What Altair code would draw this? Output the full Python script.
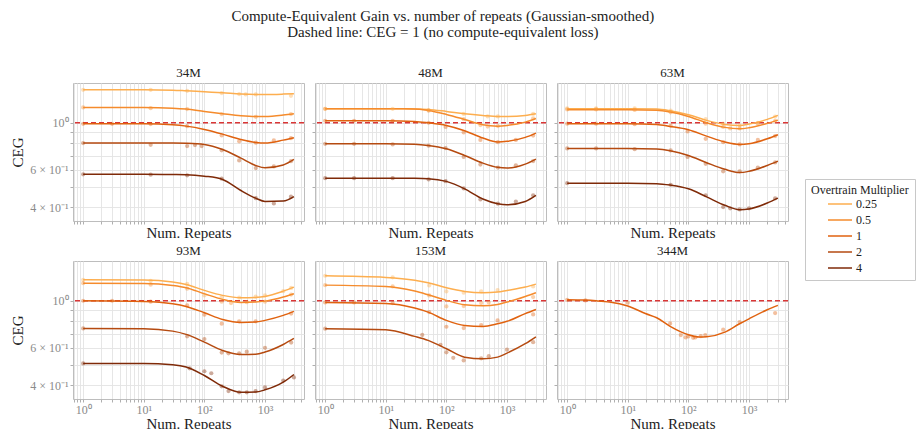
import altair as alt
import pandas as pd

FONT = "Liberation Serif"

panels = ["34M", "48M", "63M", "93M", "153M", "344M"]
mults = ["0.25", "0.5", "1", "2", "4"]
colors = ["#fdae4f", "#f58b2c", "#e0620f", "#b54a10", "#7f2a08"]

# ---- Gaussian-smoothed curves ----
knot_x = [1, 10, 30, 50, 100, 200, 400, 700, 1000, 2000, 3000]
curves = {
    "34M": {
        "0.25": [1.431, 1.431, 1.425, 1.415, 1.400, 1.385, 1.366, 1.360, 1.360, 1.365, 1.370],
        "0.5":  [1.181, 1.181, 1.172, 1.160, 1.130, 1.103, 1.079, 1.071, 1.071, 1.087, 1.103],
        "1":    [0.989, 0.989, 0.978, 0.964, 0.930, 0.884, 0.834, 0.808, 0.802, 0.828, 0.850],
        "2":    [0.802, 0.802, 0.802, 0.800, 0.790, 0.748, 0.681, 0.629, 0.613, 0.632, 0.671],
        "4":    [0.571, 0.571, 0.570, 0.569, 0.560, 0.540, 0.479, 0.441, 0.425, 0.427, 0.448],
    },
    "48M": {
        "0.25": [1.164, 1.164, 1.162, 1.156, 1.131, 1.103, 1.083, 1.071, 1.071, 1.083, 1.103],
        "0.5":  [1.164, 1.164, 1.162, 1.143, 1.095, 1.037, 0.979, 0.964, 0.971, 1.007, 1.048],
        "1":    [1.022, 1.022, 1.015, 1.000, 0.971, 0.917, 0.847, 0.811, 0.817, 0.853, 0.894],
        "2":    [0.796, 0.796, 0.792, 0.782, 0.754, 0.701, 0.645, 0.616, 0.611, 0.638, 0.674],
        "4":    [0.548, 0.548, 0.547, 0.545, 0.529, 0.488, 0.437, 0.415, 0.410, 0.425, 0.454],
    },
    "63M": {
        "0.25": [1.164, 1.164, 1.160, 1.139, 1.091, 1.026, 0.982, 0.971, 0.986, 1.037, 1.083],
        "0.5":  [1.152, 1.152, 1.145, 1.123, 1.071, 1.000, 0.951, 0.937, 0.947, 0.993, 1.029],
        "1":    [0.989, 0.989, 0.982, 0.961, 0.927, 0.865, 0.811, 0.790, 0.796, 0.840, 0.878],
        "2":    [0.757, 0.757, 0.752, 0.738, 0.701, 0.648, 0.603, 0.582, 0.590, 0.629, 0.659],
        "4":    [0.519, 0.519, 0.516, 0.508, 0.488, 0.447, 0.408, 0.389, 0.392, 0.418, 0.441],
    },
    "93M": {
        "0.25": [1.256, 1.252, 1.225, 1.194, 1.119, 1.060, 1.033, 1.037, 1.048, 1.110, 1.160],
        "0.5":  [1.211, 1.207, 1.181, 1.152, 1.079, 1.015, 0.982, 0.986, 0.996, 1.041, 1.079],
        "1":    [1.000, 0.993, 0.968, 0.940, 0.878, 0.816, 0.790, 0.793, 0.808, 0.853, 0.891],
        "2":    [0.740, 0.738, 0.719, 0.694, 0.638, 0.583, 0.558, 0.560, 0.573, 0.622, 0.664],
        "4":    [0.506, 0.506, 0.499, 0.487, 0.444, 0.395, 0.370, 0.371, 0.380, 0.413, 0.449],
    },
    "153M": {
        "0.25": [1.312, 1.289, 1.251, 1.216, 1.152, 1.107, 1.091, 1.099, 1.119, 1.160, 1.198],
        "0.5":  [1.185, 1.168, 1.111, 1.067, 1.004, 0.958, 0.947, 0.961, 0.986, 1.048, 1.091],
        "1":    [0.982, 0.971, 0.924, 0.884, 0.808, 0.765, 0.757, 0.779, 0.800, 0.870, 0.910],
        "2":    [0.738, 0.730, 0.679, 0.650, 0.594, 0.542, 0.532, 0.542, 0.566, 0.627, 0.676],
    },
}
knot_x_344 = [1, 2, 3, 5, 10, 20, 30, 50, 100, 150, 200, 400, 700, 1000, 2000, 3000]
curve_344_1 = [1.011, 1.007, 1.000, 0.986, 0.944, 0.868, 0.831, 0.757, 0.691, 0.674,
               0.676, 0.711, 0.779, 0.822, 0.907, 0.951]

# ---- raw (unsmoothed) points ----
points = {
    "34M": {
        "0.25": ([1, 13, 52, 193, 375, 480, 705, 2680], [1.431, 1.431, 1.415, 1.38, 1.365, 1.36, 1.36, 1.34]),
        "0.5":  ([1, 13, 52, 193, 705, 2680], [1.181, 1.172, 1.16, 1.099, 1.067, 1.099]),
        "1":    ([1, 3, 13, 52, 193, 375, 705, 1400, 2680], [0.989, 0.989, 0.986, 0.964, 0.871, 0.817, 0.805, 0.825, 0.846]),
        "2":    ([1, 13, 52, 70, 90, 193, 375, 705, 1400, 2680], [0.802, 0.787, 0.776, 0.785, 0.776, 0.741, 0.664, 0.611, 0.622, 0.659]),
        "4":    ([1, 13, 52, 193, 705, 1400, 2680], [0.571, 0.569, 0.565, 0.545, 0.441, 0.416, 0.448]),
    },
    "48M": {
        "0.25": ([1, 13, 51, 193, 480, 708, 2700], [1.164, 1.164, 1.147, 1.10, 1.071, 1.071, 1.10]),
        "0.5":  ([1, 51, 193, 364, 480, 708, 2700], [1.164, 1.14, 1.04, 0.975, 0.96, 0.965, 1.05]),
        "1":    ([1, 3, 13, 51, 97, 193, 364, 708, 1400, 2700], [1.022, 1.022, 1.022, 1.0, 0.955, 0.90, 0.83, 0.81, 0.83, 0.87]),
        "2":    ([1, 3, 13, 51, 97, 193, 364, 708, 1400, 2700], [0.796, 0.796, 0.79, 0.78, 0.76, 0.69, 0.635, 0.615, 0.63, 0.66]),
        "4":    ([1, 3, 13, 51, 97, 193, 364, 708, 1400, 2700], [0.548, 0.548, 0.548, 0.54, 0.53, 0.49, 0.435, 0.415, 0.425, 0.455]),
    },
    "63M": {
        "0.25": ([1, 3, 13, 51, 193, 375, 700, 1400, 2700], [1.17, 1.17, 1.17, 1.14, 1.04, 0.99, 0.97, 1.0, 1.07]),
        "0.5":  ([1, 3, 13, 51, 193, 375, 490, 700, 1400, 2700], [1.155, 1.155, 1.15, 1.12, 0.99, 0.955, 0.94, 0.94, 0.99, 1.02]),
        "1":    ([1, 3, 13, 51, 97, 193, 375, 700, 1400, 2700], [0.99, 0.99, 0.985, 0.97, 0.91, 0.84, 0.81, 0.79, 0.83, 0.865]),
        "2":    ([1, 3, 13, 51, 97, 193, 375, 700, 1400, 2700], [0.757, 0.757, 0.75, 0.74, 0.69, 0.64, 0.59, 0.59, 0.615, 0.65]),
        "4":    ([1, 51, 193, 375, 490, 700, 1000, 2700], [0.519, 0.51, 0.455, 0.40, 0.395, 0.39, 0.395, 0.44]),
    },
    "93M": {
        "0.25": ([1, 13, 52, 100, 193, 375, 700, 1000, 2000, 2700], [1.256, 1.24, 1.20, 1.06, 1.04, 1.035, 1.045, 1.06, 1.11, 1.15]),
        "0.5":  ([1, 13, 52, 193, 275, 500, 1000, 2700], [1.211, 1.19, 1.14, 0.99, 0.975, 0.985, 0.99, 1.07]),
        "1":    ([1, 3, 13, 52, 100, 193, 375, 700, 2700], [1.0, 1.0, 0.99, 0.95, 0.86, 0.78, 0.80, 0.80, 0.87]),
        "2":    ([1, 52, 100, 193, 250, 375, 500, 1000, 2700], [0.74, 0.68, 0.66, 0.57, 0.565, 0.565, 0.575, 0.60, 0.635]),
        "4":    ([1, 57, 100, 130, 193, 250, 375, 500, 700, 1000, 2000, 3000],
                 [0.506, 0.48, 0.465, 0.455, 0.395, 0.375, 0.37, 0.37, 0.375, 0.39, 0.42, 0.435]),
    },
    "153M": {
        "0.25": ([1, 13, 52, 100, 193, 375, 700, 2700], [1.312, 1.29, 1.181, 1.107, 1.091, 1.107, 1.123, 1.168]),
        "0.5":  ([1, 13, 52, 100, 193, 375, 500, 2700], [1.185, 1.168, 1.06, 0.94, 0.944, 0.975, 0.982, 1.041]),
        "1":    ([1, 3, 13, 52, 100, 193, 375, 700, 2700], [0.982, 0.982, 0.975, 0.884, 0.754, 0.743, 0.768, 0.808, 0.862]),
        "2":    ([1, 40, 80, 100, 130, 193, 375, 500, 1000, 2700], [0.738, 0.69, 0.62, 0.571, 0.538, 0.523, 0.535, 0.548, 0.588, 0.638]),
    },
    "344M": {
        "1": ([1, 2, 10, 50, 75, 90, 100, 120, 130, 160, 190, 375, 700, 2700],
              [1.011, 1.003, 0.979, 0.782, 0.689, 0.671, 0.679, 0.669, 0.671, 0.681, 0.689, 0.73, 0.793, 0.875]),
    },
}

# ---- build tables ----
line_rows = []
for p, series in curves.items():
    for m, ys in series.items():
        for xv, yv in zip(knot_x, ys):
            line_rows.append({"panel": p, "mult": m, "x": xv, "y": yv})
for xv, yv in zip(knot_x_344, curve_344_1):
    line_rows.append({"panel": "344M", "mult": "1", "x": xv, "y": yv})
lines_df = pd.DataFrame(line_rows)

pt_rows = []
for p, series in points.items():
    for m, (xs, ys) in series.items():
        for xv, yv in zip(xs, ys):
            pt_rows.append({"panel": p, "mult": m, "x": xv, "y": yv})
pts_df = pd.DataFrame(pt_rows)

x_ticks = [0.7, 0.8, 0.9] + [k * 10 ** e for e in range(0, 3) for k in range(1, 10)] + [1000, 2000, 3000, 4000]
y_ticks = [0.4, 0.5, 0.6, 0.7, 0.8, 0.9, 1.0]
x_label_expr = ("datum.value == 1 ? '10\u2070' : datum.value == 10 ? '10\u00b9' : "
                "datum.value == 100 ? '10\u00b2' : datum.value == 1000 ? '10\u00b3' : ''")
y_label_expr = ("abs(datum.value - 1) < 1e-9 ? '10\u2070' : abs(datum.value - 0.6) < 1e-9 ? "
                "'6 \u00d7 10\u207b\u00b9' : abs(datum.value - 0.4) < 1e-9 ? '4 \u00d7 10\u207b\u00b9' : ''")

x_scale = alt.Scale(type="log", domain=[0.68, 4400], nice=False)
y_scale = alt.Scale(type="log", domain=[0.344, 1.54], nice=False)
color_scale = alt.Scale(domain=mults, range=colors)
legend = alt.Legend(title="Overtrain Multiplier")

PW, PH = 231, 138


def make_panel(name, row, col):
    xa = dict(values=x_ticks, labelExpr=x_label_expr, labelOverlap=False, labelFlush=False,
              title="Num. Repeats", labels=(row == 1), titlePadding=1)
    ya = dict(values=y_ticks, labelExpr=y_label_expr, labelOverlap=False, labelFlush=False,
              labels=(col == 0))
    ya["title"] = "CEG" if col == 0 else ""
    xenc = alt.X("x:Q", scale=x_scale, axis=alt.Axis(**xa))
    yenc = alt.Y("y:Q", scale=y_scale, axis=alt.Axis(**ya))
    cenc = alt.Color("mult:N", scale=color_scale, sort=mults, legend=legend)

    ref = alt.Chart(pd.DataFrame({"y": [1.0]})).mark_rule(
        color="#d93636", strokeDash=[5, 3], strokeWidth=1.3
    ).encode(y=yenc)

    ln = alt.Chart(lines_df[lines_df.panel == name]).mark_line(
        strokeWidth=1.5, interpolate="monotone"
    ).encode(x=xenc, y=yenc, color=cenc)
    pt = alt.Chart(pts_df[pts_df.panel == name]).mark_circle(
        size=18, opacity=0.4
    ).encode(x=xenc, y=yenc, color=cenc)
    return alt.layer(ref, ln, pt).properties(
        width=PW, height=PH,
        title=alt.TitleParams(name, fontSize=13, font=FONT, fontWeight="normal", offset=3, color="#222"),
    )


row1 = alt.hconcat(*[make_panel(p, 0, i) for i, p in enumerate(panels[:3])], spacing=5)
row2 = alt.hconcat(*[make_panel(p, 1, i) for i, p in enumerate(panels[3:])], spacing=5)

chart = alt.vconcat(row1, row2, spacing=3).properties(
    title=alt.TitleParams(
        ["Compute-Equivalent Gain vs. number of repeats (Gaussian-smoothed)",
         "Dashed line: CEG = 1 (no compute-equivalent loss)"],
        fontSize=15, font=FONT, fontWeight="normal", anchor="middle", lineHeight=16,
        offset=27, color="#222", dx=-20,
    ),
    padding={"left": 10, "top": 8, "right": 0, "bottom": 0},
).configure_view(
    stroke="#bdbdbd", strokeWidth=1
).configure_axis(
    labelFont=FONT, titleFont=FONT, labelFontSize=12, titleFontSize=15,
    labelColor="#8a8a8a", titleColor="#222", titleFontWeight="normal",
    gridColor="#e3e3e3", gridWidth=0.9, tickColor="#9a9a9a", tickSize=3, tickWidth=0.8,
    domain=False, labelPadding=2,
).configure_legend(
    orient="none", legendX=732, legendY=96,
    titleFont=FONT, labelFont=FONT, titleFontSize=12, labelFontSize=12,
    titleFontWeight="normal", titleColor="#222", labelColor="#222",
    symbolType="M-2,0L2,0", symbolSize=144, symbolStrokeWidth=1.5, symbolOffset=22,
    symbolOpacity=1,
    strokeColor="#c8c8c8", fillColor="white", padding=6, rowPadding=3, labelOffset=9,
    titlePadding=0,
).configure_title(font=FONT)

chart.save("out.html", embed_options={"renderer": "svg", "actions": False})
